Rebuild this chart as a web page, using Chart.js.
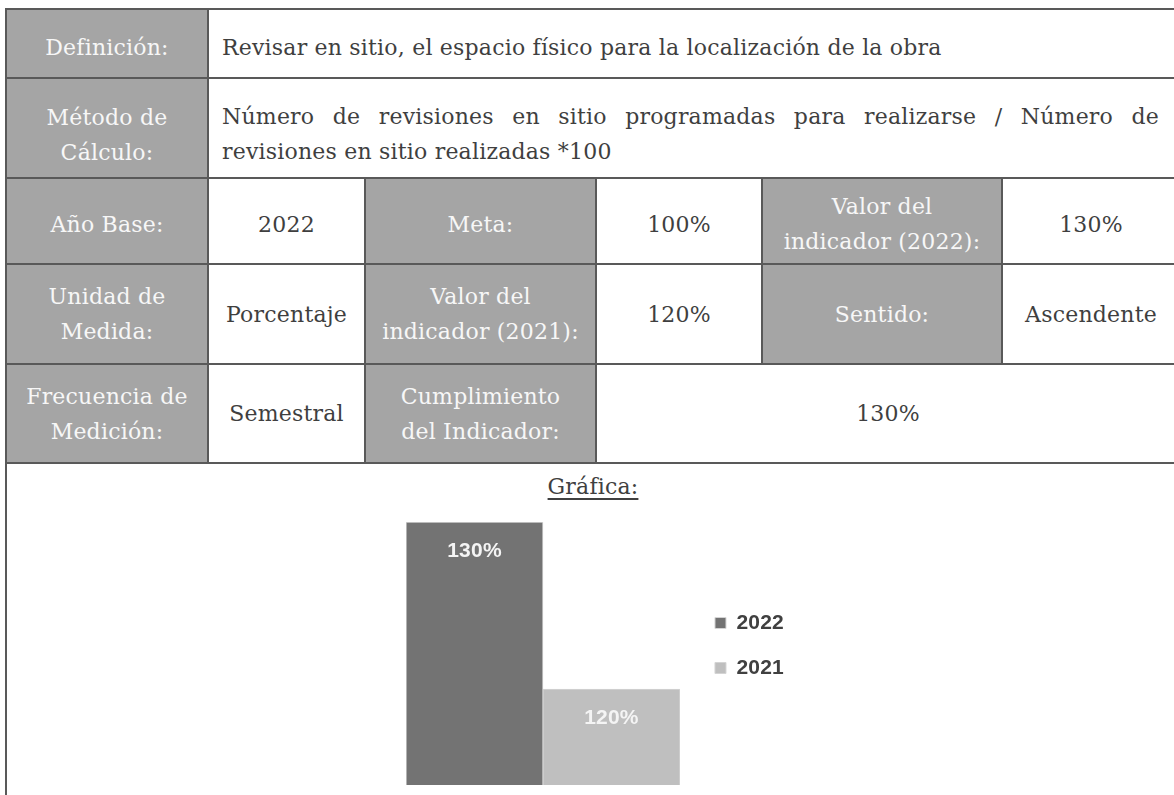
<!DOCTYPE html>
<html lang="es">
<head>
<meta charset="UTF-8">
<title>Ficha del indicador</title>
<script src="https://cdn.jsdelivr.net/npm/chart.js"></script>
<style>
html, body { margin: 0; padding: 0; background: #fff; }
body { width: 1174px; height: 795px; overflow: hidden; position: relative; font-family: "DejaVu Serif", serif; font-size: 22px; letter-spacing: 0.2px; }
.c { position: absolute; box-sizing: border-box; border: 2px solid #595959; display: flex; align-items: center; justify-content: center; text-align: center; line-height: 35px; }
.h { background: #a5a5a5; color: #f7f7f7; }
.v { background: #fff; color: #3f3f3f; }
.r1 { padding-top: 8px; }
.r2 { padding-top: 14px; }
.r3 { padding-top: 6px; }
.left { justify-content: flex-start; text-align: left; padding-left: 13px; }
.just { display: block; padding: 20px 20px 0 13px; text-align: justify; }
.just .l1 { text-align: justify; text-align-last: justify; }
#titulo { position: absolute; left: 5px; width: 1176px; top: 474px; text-align: center; color: #404040; text-decoration: underline; text-underline-offset: 4px; }
#chartBox { position: absolute; left: 396px; top: 505px; width: 430px; height: 290px; }
</style>
</head>
<body>
<!-- fila 1 -->
<div class="c h r1" style="left:5px;top:8px;width:204px;height:71px;">Definición:</div>
<div class="c v left r1" style="left:207px;top:8px;width:974px;height:71px;">Revisar en sitio, el espacio físico para la localización de la obra</div>
<!-- fila 2 -->
<div class="c h r2" style="left:5px;top:77px;width:204px;height:102px;">Método de<br>Cálculo:</div>
<div class="c v just" style="left:207px;top:77px;width:974px;height:102px;">
  <div class="l1">Número de revisiones en sitio programadas para realizarse / Número de</div>
  <div>revisiones en sitio realizadas *100</div>
</div>
<!-- fila 3 -->
<div class="c h r3" style="left:5px;top:177px;width:204px;height:88px;">Año Base:</div>
<div class="c v r3" style="left:207px;top:177px;width:159px;height:88px;">2022</div>
<div class="c h r3" style="left:364px;top:177px;width:233px;height:88px;">Meta:</div>
<div class="c v r3" style="left:595px;top:177px;width:168px;height:88px;">100%</div>
<div class="c h r3" style="left:761px;top:177px;width:242px;height:88px;">Valor del<br>indicador (2022):</div>
<div class="c v r3" style="left:1001px;top:177px;width:180px;height:88px;">130%</div>
<!-- fila 4 -->
<div class="c h" style="left:5px;top:263px;width:204px;height:102px;">Unidad de<br>Medida:</div>
<div class="c v" style="left:207px;top:263px;width:159px;height:102px;">Porcentaje</div>
<div class="c h" style="left:364px;top:263px;width:233px;height:102px;">Valor del<br>indicador (2021):</div>
<div class="c v" style="left:595px;top:263px;width:168px;height:102px;">120%</div>
<div class="c h" style="left:761px;top:263px;width:242px;height:102px;">Sentido:</div>
<div class="c v" style="left:1001px;top:263px;width:180px;height:102px;">Ascendente</div>
<!-- fila 5 -->
<div class="c h" style="left:5px;top:363px;width:204px;height:101px;">Frecuencia de<br>Medición:</div>
<div class="c v" style="left:207px;top:363px;width:159px;height:101px;">Semestral</div>
<div class="c h" style="left:364px;top:363px;width:233px;height:101px;">Cumplimiento<br>del Indicador:</div>
<div class="c v" style="left:595px;top:363px;width:586px;height:101px;">130%</div>
<!-- grafica -->
<div class="c v" style="left:5px;top:462px;width:1176px;height:420px;"></div>
<div id="titulo">Gráfica:</div>
<div id="chartBox"><canvas id="chart" width="430" height="290"></canvas></div>

<script>
// datos de la grafica
const categories = ['Cumplimiento'];
const seriesNames = ['2022', '2021'];
const values2022 = [130];
const values2021 = [120];
const labels2022 = ['130%'];
const labels2021 = ['120%'];
const seriesColors = ['#737373', '#bfbfbf'];

// etiquetas blancas dentro de cada barra
const barLabels = {
  id: 'barLabels',
  afterDatasetsDraw(chart) {
    const ctx = chart.ctx;
    const texts = [labels2022, labels2021];
    ctx.save();
    ctx.font = 'bold 21px "Liberation Sans"';
    ctx.fillStyle = '#f4f4f4';
    ctx.textAlign = 'center';
    ctx.textBaseline = 'middle';
    chart.data.datasets.forEach((ds, i) => {
      chart.getDatasetMeta(i).data.forEach((bar, j) => {
        ctx.fillText(texts[i][j], bar.x, bar.y + 29);
      });
    });
    ctx.restore();
  }
};

// acercar la leyenda como en el original
const legendShift = {
  id: 'legendShift',
  afterLayout(chart) {
    const lg = chart.legend;
    lg.left += 11; lg.right += 11;
    lg.top -= 8; lg.bottom -= 8;
  }
};

new Chart(document.getElementById('chart'), {
  type: 'bar',
  data: {
    labels: categories,
    datasets: [
      { label: seriesNames[0], data: values2022, backgroundColor: seriesColors[0], borderColor: '#d4d4d4', borderWidth: 1 },
      { label: seriesNames[1], data: values2021, backgroundColor: seriesColors[1], borderColor: '#d4d4d4', borderWidth: 1 }
    ]
  },
  options: {
    responsive: false,
    animation: false,
    devicePixelRatio: 1,
    categoryPercentage: 1,
    barPercentage: 1,
    layout: { padding: { left: 10, top: 17, bottom: 10, right: 43 } },
    scales: {
      x: { display: false },
      y: { display: false, min: 114.25, max: 130 }
    },
    plugins: {
      tooltip: { enabled: false },
      legend: {
        position: 'right',
        labels: {
          boxWidth: 11,
          boxHeight: 11,
          padding: 24,
          color: '#404040',
          font: { family: 'Liberation Sans', size: 21, weight: 'bold' }
        }
      }
    }
  },
  plugins: [barLabels, legendShift]
});
</script>
</body>
</html>
